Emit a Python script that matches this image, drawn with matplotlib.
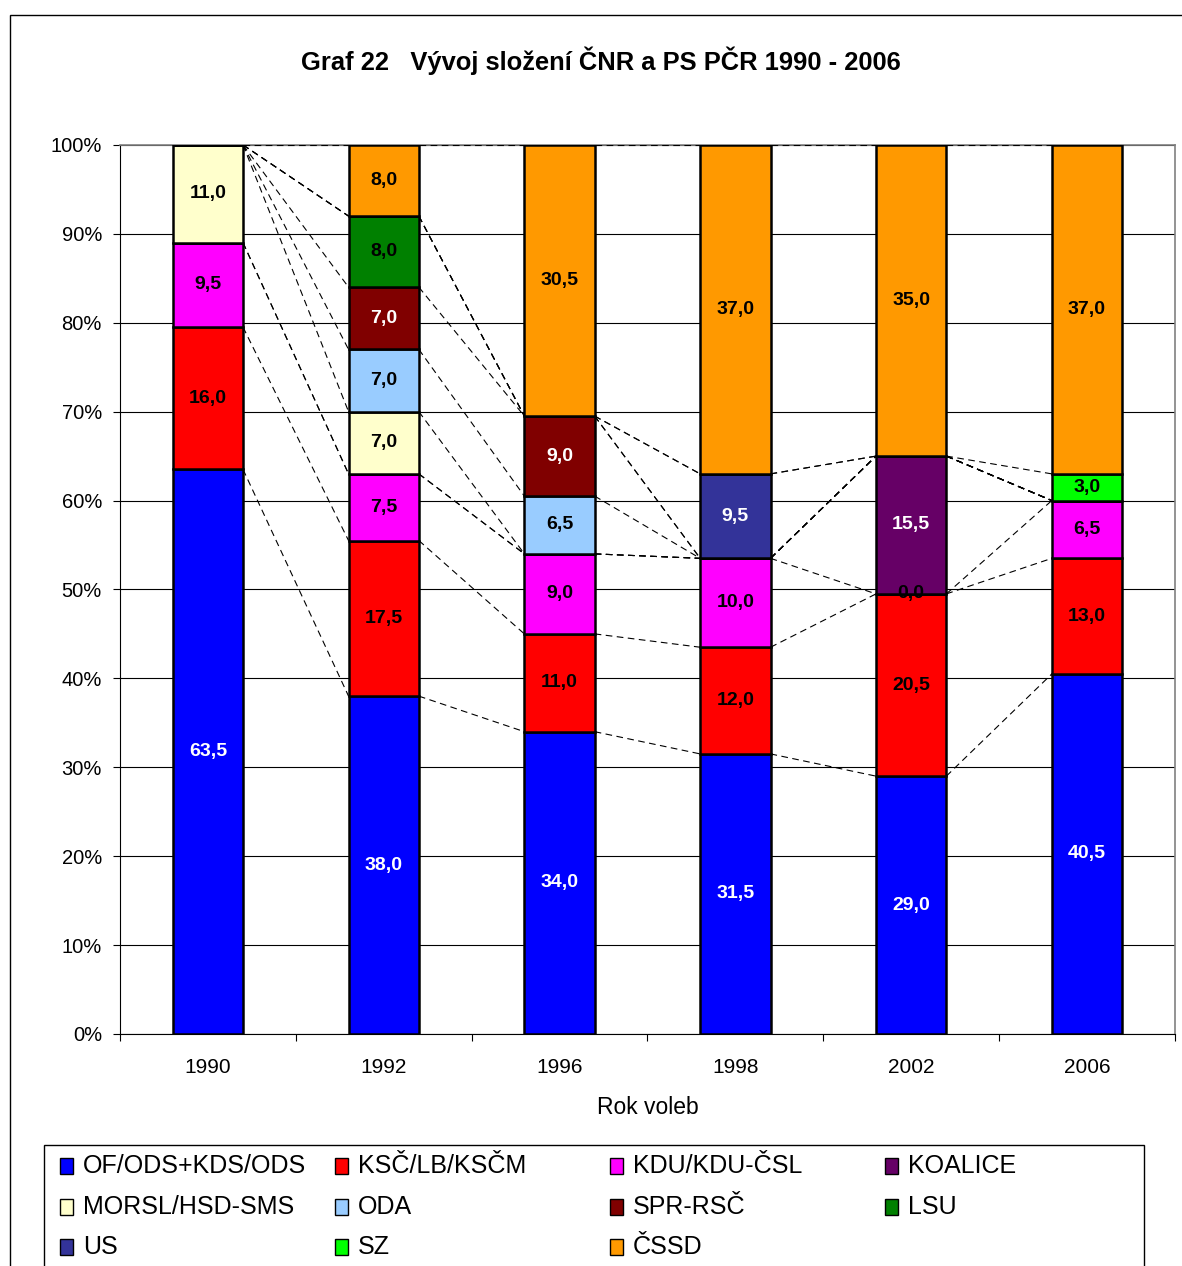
import numpy as np
import matplotlib
matplotlib.use("Agg")
import matplotlib.pyplot as plt
from matplotlib.patches import Rectangle
from matplotlib.ticker import FuncFormatter, FixedLocator

plt.rcParams['font.family'] = ['Liberation Sans', 'DejaVu Sans']

nan = np.nan
years = ['1990', '1992', '1996', '1998', '2002', '2006']

# seat shares (%) per party, bottom to top of the stack; nan = no data label
parties = ['OF/ODS+KDS/ODS', 'KSČ/LB/KSČM', 'KDU/KDU-ČSL', 'KOALICE',
           'MORSL/HSD-SMS', 'ODA', 'SPR-RSČ', 'LSU', 'US', 'SZ', 'ČSSD']
ods = [63.5, 38.0, 34.0, 31.5, 29.0, 40.5]
kscm = [16.0, 17.5, 11.0, 12.0, 20.5, 13.0]
kdu = [9.5, 7.5, 9.0, 10.0, 0.0, 6.5]
koalice = [nan, nan, nan, nan, 15.5, nan]
morsl = [11.0, 7.0, nan, nan, nan, nan]
oda = [nan, 7.0, 6.5, nan, nan, nan]
spr = [nan, 7.0, 9.0, nan, nan, nan]
lsu = [nan, 8.0, nan, nan, nan, nan]
us = [nan, nan, nan, 9.5, nan, nan]
sz = [nan, nan, nan, nan, nan, 3.0]
cssd = [nan, 8.0, 30.5, 37.0, 35.0, 37.0]

series = [ods, kscm, kdu, koalice, morsl, oda, spr, lsu, us, sz, cssd]
colors = ['#0000FF', '#FF0000', '#FF00FF', '#660066', '#FFFFCC', '#99CCFF',
          '#800000', '#008000', '#333399', '#00FF00', '#FF9900']
label_colors = ['white', 'black', 'black', 'white', 'black', 'black',
                'white', 'black', 'white', 'black', 'black']

fig = plt.figure(figsize=(11.82, 12.66), dpi=100)
ax = fig.add_axes([0.1015, 0.1833, 0.8925, 0.7022])

x = np.arange(len(years))
w = 0.4
bottom = np.zeros(len(years))
tops = []
for vals, col, lc in zip(series, colors, label_colors):
    v = np.array(vals, dtype=float)
    h = np.nan_to_num(v)
    ax.bar(x, h, w, bottom=bottom, color=col, edgecolor='black',
           linewidth=1.8, zorder=3)
    for i in range(len(years)):
        if not np.isnan(v[i]):
            ax.text(x[i], bottom[i] + h[i] / 2, f'{v[i]:.1f}'.replace('.', ','),
                    ha='center', va='center', fontsize=14,
                    fontweight='bold', color=lc, zorder=5)
    bottom = bottom + h
    tops.append(bottom.copy())

# series lines between neighbouring columns
for t in tops:
    for i in range(len(years) - 1):
        ax.plot([x[i] + w / 2, x[i + 1] - w / 2], [t[i], t[i + 1]],
                color='black', linewidth=0.8, dashes=(6, 4), zorder=4)

ax.set_xlim(-0.5, len(years) - 0.5)
ax.set_ylim(0, 100)
ax.set_yticks(np.arange(0, 101, 10))
ax.yaxis.set_major_formatter(FuncFormatter(lambda v, p: f'{int(v)}%'))
ax.grid(axis='y', color='black', linewidth=0.8, zorder=0)
ax.set_axisbelow(True)

ax.set_xticks(x)
ax.set_xticklabels(years)
ax.xaxis.set_minor_locator(FixedLocator(np.arange(-0.5, len(years), 1.0)))
ax.tick_params(axis='x', which='major', length=0, pad=17, labelsize=15)
ax.tick_params(axis='x', which='minor', length=5, width=0.8, direction='out')
ax.tick_params(axis='y', length=5, width=0.8, direction='out', pad=8, labelsize=14.5)

for s in ['left', 'bottom']:
    ax.spines[s].set_color('black')
    ax.spines[s].set_linewidth(0.8)
for s in ['top', 'right']:
    ax.spines[s].set_color('#808080')
    ax.spines[s].set_linewidth(1.2)

ax.set_xlabel('Rok voleb', fontsize=16.5, labelpad=14)

fig.text(0.508, 1 - 61 / 1266, 'Graf 22   Vývoj složení ČNR a PS PČR 1990 - 2006',
         ha='center', va='center', fontsize=18.4, fontweight='bold')

# outer chart frame
W, H = 1182, 1266
fig.patches.append(Rectangle((10 / W, -0.01), 1.02, (H - 15) / H + 0.01,
                             transform=fig.transFigure, fill=False,
                             edgecolor='black', linewidth=1.0))

# legend box, laid out row by row
fig.patches.append(Rectangle((44 / W, -0.01), (1144 - 44) / W, (H - 1145) / H + 0.01,
                             transform=fig.transFigure, fill=False,
                             edgecolor='black', linewidth=1.0))
for k, (name, col) in enumerate(zip(parties, colors)):
    r, c = divmod(k, 4)
    lx = 60 + c * 275
    ly = 1166 + r * 40.5
    fig.patches.append(Rectangle((lx / W, 1 - (ly + 8) / H), 13 / W, 16 / H,
                                 transform=fig.transFigure, facecolor=col,
                                 edgecolor='black', linewidth=1.0))
    fig.text((lx + 23) / W, 1 - ly / H, name, ha='left', va='center', fontsize=18)

fig.savefig('out.png', dpi=100)
